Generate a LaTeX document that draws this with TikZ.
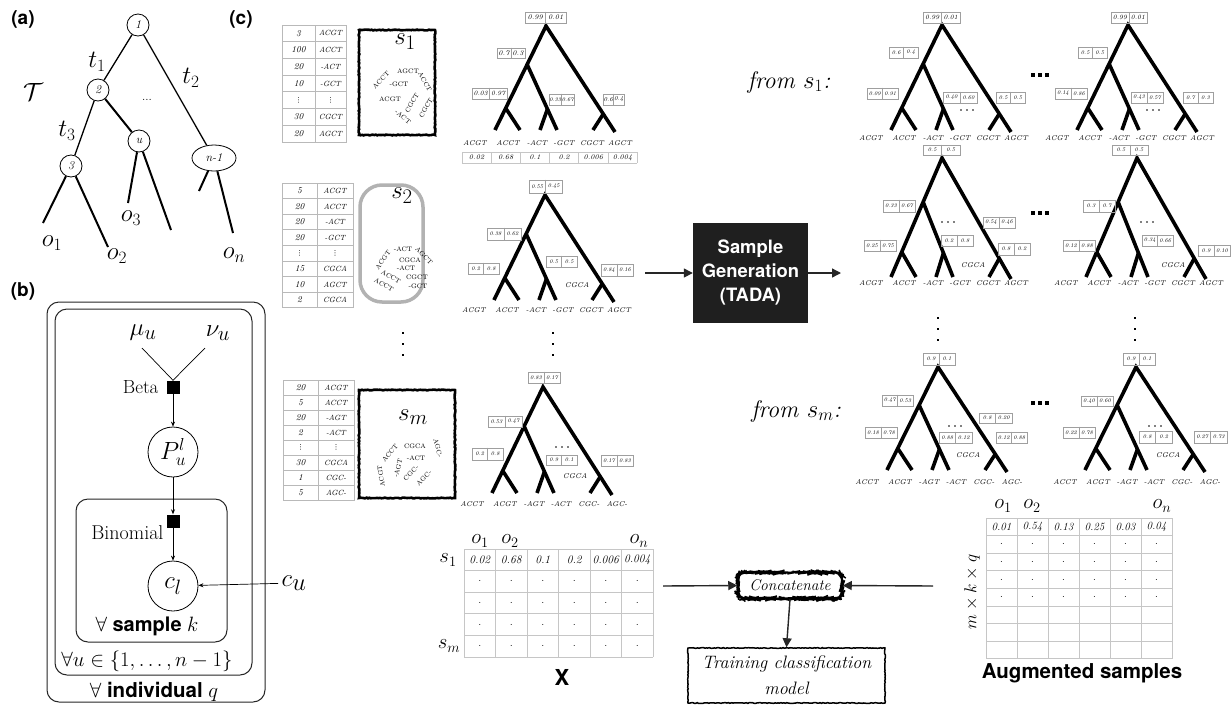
\documentclass[tikz,border=0pt]{standalone}
\usepackage{fontspec}
\setsansfont{TeX Gyre Heros}
\newfontfamily\symfont{DejaVu Sans}
\usepackage{amsmath}
\usetikzlibrary{arrows.meta,calc,decorations.pathmorphing,shapes.geometric}

\newcommand\fsz[1]{\fontsize{#1}{#1}\selectfont}
\newcommand\vd{{\symfont\fsz{7}⋮}}

% probability box: [font size] name, x1, x2, y1, y2, left value, right value
\newcommand\pbox[8][5.5]{%
  \node[pbx, minimum width={#4-#3}, minimum height={#6-#5}] (#2) at ({(#3+#4)/2},{(#5+#6)/2}) {};
  \draw[pbl] (#2.north) -- (#2.south);
  \node[pbt, font=\itshape\fsz{#1}] (#2a) at ({(3*#3+#4)/4},{(#5+#6)/2}) {#7};
  \node[pbt, font=\itshape\fsz{#1}] (#2b) at ({(#3+3*#4)/4},{(#5+#6)/2}) {#8};}

% phylogeny: name, root x, root y, depth, label gap, leaf labels
\newcommand\phylo[6]{%
  \begin{scope}[shift={(#2,#3)}]
    \coordinate (#1r) at (0,0);
    \coordinate (#1A) at (-51,#4);
    \coordinate (#1B) at (-26,#4);
    \coordinate (#1C) at (-6,#4);
    \coordinate (#1D) at (11,#4);
    \coordinate (#1E) at (47,#4);
    \coordinate (#1F) at (69,#4+2);
    \coordinate (#1n2) at ($(#1r)!0.37!(#1A)$);
    \coordinate (#1n3) at ($(#1r)!0.79!(#1A)$);
    \coordinate (#1n4) at ($(#1n2)!0.68!(#1D)$);
    \coordinate (#1n5) at ($(#1r)!0.83!(#1F)$);
    \draw[branch] (#1A) -- (#1r) -- (#1F);
    \draw[branch] (#1n2) -- (#1D);
    \draw[branch] (#1n3) -- (#1B);
    \draw[branch] (#1n4) -- (#1C);
    \draw[branch] (#1n5) -- (#1E);
    \foreach \lab [count=\i] in {#6} {
      \pgfmathsetmacro\lx{{-71,-38,-9,18,46,74}[\i-1]}
      \node[leaflab] (#1l\i) at (\lx,#4+#5) {\lab};}
  \end{scope}}

% sequence count table: name, x-left, x-split, x-right, y-top, row height, number of rows, rows
\newcommand\seqtab[8]{%
  \draw[tgrid] (#2,#5) rectangle (#4,{#5+#7*#6});
  \draw[tgrid] (#3,#5) -- (#3,{#5+#7*#6});
  \foreach \k in {1,...,#7} \draw[tgrid] (#2,{#5+\k*#6}) -- (#4,{#5+\k*#6});
  \foreach \n/\s [count=\i] in {#8} {
    \node[ttext, font=\itshape\fsz{9}] (#1n\i) at ({(#2+#3)/2},{#5+(\i-0.5)*#6}) {\n};
    \node[ttext, font=\itshape\fsz{7.5}] (#1s\i) at ({(#3+#4)/2},{#5+(\i-0.5)*#6}) {\s};}}

% value grid: x-left, y-top, cell width, cell height, columns, rows
\newcommand\valgrid[6]{%
  \foreach \k in {0,...,#5} \draw[ggrid] ({#1+\k*#3},#2) -- ({#1+\k*#3},{#2+#6*#4});
  \foreach \k in {0,...,#6} \draw[ggrid] (#1,{#2+\k*#4}) -- ({#1+#5*#3},{#2+\k*#4});}

\newcommand\sdots[2]{\foreach \d in {-6,0,6} \fill ({#1+\d},#2) circle (0.9);}
\newcommand\bdots[2]{\foreach \d in {-7,0,7} \fill ({#1+\d-1.6},{#2-1.6}) rectangle ++(3.2,3.2);}
\newcommand\vdotcol[2]{\foreach \d in {0,11,22} \fill ({#1-1.3},{#2+\d-1.3}) rectangle ++(2.6,2.6);}

\tikzset{
  panel/.style={font=\sffamily\bfseries\fsz{19}, inner sep=0pt},
  tnode/.style={circle, draw, line width=0.8pt, inner sep=0pt, minimum size=22, font=\itshape\fsz{12}, fill=white},
  tedge/.style={line width=1.3pt},
  leg/.style={line width=2pt},
  branch/.style={line width=3.6pt, line join=miter},
  leaflab/.style={font=\itshape\fsz{7}, inner sep=0pt},
  pbx/.style={draw=gray!75, line width=0.7pt, inner sep=0pt},
  pbl/.style={draw=gray!75, line width=0.6pt},
  pbt/.style={inner sep=0pt},
  tgrid/.style={draw=gray!55, line width=0.7pt},
  ggrid/.style={draw=gray!45, line width=0.9pt},
  ttext/.style={inner sep=0pt},
  word/.style={font=\fsz{6.5}, inner sep=0pt},
  plate/.style={draw=black!85, line width=1pt, rounded corners=12pt},
  factor/.style={fill=black, minimum size=13, inner sep=0pt},
  rv/.style={circle, draw, line width=0.8pt, minimum size=50, inner sep=0pt},
  rough/.style={decorate, decoration={random steps, segment length=1.5pt, amplitude=0.4pt}},
  arr/.style={-{Triangle[length=9pt,width=9pt]}, line width=1.4pt, draw=black!85, fill=black!85},
  thinarr/.style={-{Stealth[length=5pt,width=4pt]}, line width=0.7pt},
}

\begin{document}
\begin{tikzpicture}[x=1pt, y=-1pt]
\fill[white] (0,0) rectangle (1232,705);
\useasboundingbox (0,0) rectangle (1232,705);

% ---------- panel labels ----------
\node[panel] (pa) at (23,19) {(a)};
\node[panel] (pc) at (241,19) {(c)};
\node[panel] (pb) at (23,291) {(b)};

% ---------- (a) tree ----------
\node[tnode] (a1) at (138,25) {1};
\node[tnode] (a2) at (98,90) {2};
\node[tnode] (au) at (139,141) {u};
\node[tnode] (a3) at (71,166) {3};
\node[tnode, ellipse, minimum width=44, minimum height=26] (an) at (214,158) {n-1};
\draw[tedge] (a1) -- (a2);
\draw[tedge] (a1) -- (an);
\draw[tedge] (a2) -- (a3);
\draw[leg] (a2) -- (au);
\coordinate (a3L) at (43,223); \coordinate (a3R) at (108,247);
\coordinate (auL) at (128,203); \coordinate (auR) at (171,230);
\coordinate (anL) at (199,191); \coordinate (anR) at (233,233);
\draw[leg] (a3) -- (a3L); \draw[leg] (a3) -- (a3R);
\draw[leg] (au) -- (auL); \draw[leg] (au) -- (auR);
\draw[leg] (an) -- (anL); \draw[leg] (an) -- (anR);
\node[font=\fsz{24}] (t1) at (97,62) {$t_1$};
\node[font=\fsz{24}] (t2) at (191,78) {$t_2$};
\node[font=\fsz{24}] (t3) at (67,131) {$t_3$};
\node[font=\fsz{30}] (tT) at (33,92) {$\mathcal{T}$};
\node[font=\fsz{12}] (adots) at (147,100) {...};
\node[font=\fsz{26}] (o1) at (52,243) {$o_1$};
\node[font=\fsz{26}] (o2) at (117,256) {$o_2$};
\node[font=\fsz{26}] (o3) at (131,218) {$o_3$};
\node[font=\fsz{26}] (on) at (234,255) {$o_n$};

% ---------- (b) plate model ----------
\draw[plate] (47,302) rectangle (265,702);
\draw[plate] (55,309) rectangle (252,675);
\draw[plate] (76,499) rectangle (227,642);
\node[font=\fsz{31}] (mu) at (143,333) {$\mu_u$};
\node[font=\fsz{31}] (nu) at (218,333) {$\nu_u$};
\node[factor] (beta) at (173,387) {};
\node[anchor=east, font=\fsz{19}] (betal) at (162,387) {Beta};
\coordinate (mul) at (142,348);
\coordinate (nul) at (205,348);
\draw[line width=0.7pt] (mul) -- (beta.north);
\draw[line width=0.7pt] (nul) -- (beta.north);
\node[rv, font=\fsz{25}] (P) at (173,452) {$P_u^l$};
\node[factor] (binom) at (173,521) {};
\node[anchor=east, font=\fsz{20}] (binl) at (167,533) {Binomial};
\node[rv, font=\fsz{32}] (cl) at (173,586) {$c_l$};
\node[font=\fsz{36}] (cu) at (294,583) {$c_u$};
\draw[thinarr] (beta) -- (P);
\draw[thinarr] (P) -- (binom);
\draw[thinarr] (binom) -- (cl);
\draw[thinarr] (cu) -- (cl);
\node[font=\sffamily\bfseries\fsz{20}] (fs) at (147,626) {$\forall$ sample $k$};
\node[font=\fsz{22}] (fu) at (147,661) {$\forall u \in \{1,\ldots,n-1\}$};
\node[font=\sffamily\bfseries\fsz{20.5}] (fi) at (154,692) {$\forall$ individual $q$};

% ---------- (c) input samples ----------
\seqtab{ta}{282}{315}{346}{25}{16.7}{7}{3/ACGT,100/ACCT,20/-ACT,10/-GCT,\vd/\vd,30/CGCT,20/AGCT}
\seqtab{tb}{282}{317}{353}{183}{15.6}{8}{5/ACGT,20/ACCT,20/-ACT,20/-GCT,\vd/\vd,15/CGCA,10/AGCT,2/CGCA}
\seqtab{tc}{283}{318}{354}{380}{15}{8}{20/ACGT,5/ACCT,20/-AGT,2/-ACT,\vd/\vd,30/CGCA,1/CGC-,5/AGC-}

% sample s1
\draw[rough, line width=2.6pt] (359,30) rectangle (435,135);
\node[font=\fsz{28}] (s1) at (405,42) {$s_1$};
\node[word] (w11) at (408,71) {AGCT};
\node[word] (w12) at (399,84) {-GCT};
\node[word, rotate=45] (w13) at (381,80) {ACCT};
\node[word] (w14) at (390,99) {ACGT};
\node[word, rotate=-60] (w15) at (425,82) {ACCT};
\node[word, rotate=60] (w16) at (412,103) {CGCT};
\node[word, rotate=60] (w17) at (426,108) {CGCT};
\node[word, rotate=-40] (w18) at (403,117) {-ACT};

% sample s2
\draw[draw=gray!60, line width=3.5pt, rounded corners=22pt] (360,185) rectangle (423,302);
\node[font=\fsz{28}] (s2) at (402,196) {$s_2$};
\node[word, rotate=55] (w21) at (383,260) {ACGT};
\node[word] (w22) at (403,249) {-ACT};
\node[word, rotate=-45] (w23) at (424,256) {AGCT};
\node[word] (w24) at (410,260) {CGCA};
\node[word] (w25) at (406,268) {-ACT};
\node[word, rotate=-30] (w26) at (391,277) {ACCT};
\node[word] (w27) at (417,277) {CGCT};
\node[word, rotate=-30] (w28) at (384,285) {ACCT};
\node[word] (w29) at (418,286) {-GCT};

% sample sm
\draw[rough, line width=2.6pt] (359,390) rectangle (455,498);
\node[font=\fsz{28}] (sm) at (413,417) {$s_m$};
\node[word, rotate=50] (w31) at (390,453) {ACCT};
\node[word] (w32) at (415,446) {CGCA};
\node[word, rotate=-75] (w33) at (438,448) {AGC-};
\node[word, rotate=75] (w34) at (398,468) {-AGT};
\node[word] (w35) at (416,458) {-ACT};
\node[word, rotate=100] (w36) at (381,476) {ACGT};
\node[word, rotate=45] (w37) at (411,473) {CGC-};
\node[word, rotate=45] (w38) at (424,478) {AGC-};

\vdotcol{403}{333}
\vdotcol{553}{333}

% ---------- (c) sample trees ----------
\phylo{La}{546}{26}{104}{13}{ACGT,ACCT,-ACT,-GCT,CGCT,AGCT}
\pbox[7]{la0}{525}{566}{12}{23}{0.99}{0.01}
\pbox[7]{la2}{497}{525}{48}{58}{0.7}{0.3}
\pbox[6.5]{la3}{472}{507}{88}{99}{0.03}{0.97}
\pbox[5.5]{la4}{549}{574}{94}{105}{0.33}{0.67}
\pbox[6]{la5}{603}{624}{94}{105}{0.6}{0.4}
\valgrid{462}{152}{29.2}{11}{6}{1}
\foreach \v [count=\i from 0] in {0.02,0.68,0.1,0.2,0.006,0.004}
  \node[ttext, font=\itshape\fsz{7}] (lav\i) at ({462+29.2*(\i+0.5)},157.5) {\v};

\phylo{Lb}{545}{195}{105}{10}{ACGT,ACCT,-ACT,-GCT,CGCT,AGCT}
\pbox{lb0}{529}{562}{180}{193}{0.55}{0.45}
\pbox{lb2}{487}{521}{228}{240}{0.38}{0.62}
\pbox{lb3}{468}{499}{263}{274}{0.2}{0.8}
\pbox{lb4}{546}{577}{256}{267}{0.5}{0.5}
\pbox{lb5}{601}{633}{264}{276}{0.84}{0.16}
\node[leaflab] (lbc) at (577,285) {CGCA};

\phylo{Lc}{543}{387}{106}{11}{ACCT,ACGT,-AGT,-ACT,CGC-,AGC-}
\pbox{lc0}{528}{560}{372}{383}{0.83}{0.17}
\pbox{lc2}{488}{522}{416}{427}{0.53}{0.47}
\pbox{lc3}{472}{503}{448}{460}{0.2}{0.8}
\pbox{lc4}{546}{577}{455}{465}{0.9}{0.1}
\pbox{lc5}{601}{633}{455}{466}{0.17}{0.83}
\sdots{562}{447}
\node[leaflab] (lcc) at (575,476) {CGCA};

% ---------- sample generation ----------
\node[fill=black!88, text=white, minimum width=115, minimum height=100, align=center,
      font=\sffamily\bfseries\fontsize{18.4}{24}\selectfont] (tada) at (750.5,273) {Sample\\Generation\\(TADA)};
\coordinate (genin) at (645,273);
\coordinate (genout) at (841,273);
\draw[arr] (genin) -- (tada.west);
\draw[arr] (tada.east) -- (genout);

\node[font=\itshape\fsz{24}] (from1) at (789,82) {from $s_1$:};
\node[font=\itshape\fsz{24}] (fromm) at (796,411) {from $s_m$:};

% ---------- augmented trees ----------
\phylo{Ra}{942}{25}{105}{8}{ACGT,ACCT,-ACT,-GCT,CGCT,AGCT}
\pbox[6.5]{ra0}{923}{960}{12}{23}{0.99}{0.01}
\pbox{ra2}{889}{918}{47}{58}{0.6}{0.4}
\pbox{ra3}{867}{898}{88}{99}{0.09}{0.91}
\pbox{ra4}{943}{977}{92}{103}{0.40}{0.60}
\sdots{967}{110}
\pbox{ra5}{996}{1025}{92}{103}{0.5}{0.5}

\phylo{Rb}{1128}{25}{105}{8}{ACGT,ACCT,-ACT,-GCT,CGCT,AGCT}
\pbox[6.5]{rb0}{1111}{1147}{12}{23}{0.99}{0.01}
\pbox{rb2}{1078}{1107}{47}{58}{0.5}{0.5}
\pbox{rb3}{1055}{1087}{88}{99}{0.14}{0.86}
\pbox{rb4}{1131}{1163}{92}{103}{0.43}{0.57}
\sdots{1153}{110}
\pbox{rb5}{1183}{1213}{92}{103}{0.7}{0.3}
\bdots{1040}{75}

\phylo{Rc}{942}{158}{119}{6}{ACGT,ACCT,-ACT,-GCT,CGCT,AGCT}
\pbox{rc0}{923}{960}{145}{155}{0.5}{0.5}
\pbox{rc2}{883}{915}{200}{212}{0.33}{0.67}
\pbox{rc3}{864}{896}{240}{251}{0.25}{0.75}
\sdots{948}{222}
\pbox{rc4}{941}{973}{235}{246}{0.2}{0.8}
\pbox{rc6}{983}{1015}{217}{228}{0.54}{0.46}
\pbox{rc5}{998}{1030}{243}{255}{0.8}{0.2}
\node[leaflab] (rcc) at (973,265) {CGCA};

\phylo{Rd}{1137}{158}{119}{6}{ACGT,ACCT,-ACT,-GCT,CGCT,AGCT}
\pbox{rd0}{1112}{1148}{145}{155}{0.5}{0.5}
\pbox{rd2}{1083}{1115}{200}{212}{0.3}{0.7}
\pbox{rd3}{1063}{1095}{240}{251}{0.12}{0.88}
\sdots{1147}{222}
\pbox{rd4}{1142}{1173}{235}{246}{0.34}{0.66}
\pbox{rd5}{1198}{1230}{245}{256}{0.9}{0.10}
\node[leaflab] (rdc) at (1173,265) {CGCA};
\bdots{1040}{213}

\vdotcol{938}{318}
\vdotcol{1135}{318}

\phylo{Re}{938}{367}{103}{12}{ACCT,ACGT,-AGT,-ACT,CGC-,AGC-}
\pbox{re0}{923}{955}{353}{365}{0.9}{0.1}
\pbox{re2}{882}{913}{395}{406}{0.47}{0.53}
\pbox{re3}{865}{897}{427}{438}{0.18}{0.78}
\sdots{955}{426}
\pbox{re4}{939}{972}{432}{443}{0.88}{0.12}
\pbox{re6}{979}{1012}{413}{423}{0.8}{0.20}
\pbox{re5}{996}{1027}{432}{443}{0.12}{0.88}
\node[leaflab] (rec) at (968,455) {CGCA};

\phylo{Rf}{1136}{367}{103}{12}{ACCT,ACGT,-AGT,-ACT,CGC-,AGC-}
\pbox{rf0}{1123}{1155}{353}{365}{0.9}{0.1}
\pbox{rf2}{1081}{1113}{396}{406}{0.40}{0.60}
\pbox{rf3}{1063}{1095}{427}{438}{0.22}{0.78}
\sdots{1155}{426}
\pbox{rf4}{1139}{1172}{431}{443}{0.8}{0.2}
\pbox{rf5}{1194}{1227}{431}{443}{0.27}{0.73}
\node[leaflab] (rfc) at (1168,455) {CGCA};
\bdots{1040}{403}

% ---------- feature matrix X ----------
\valgrid{464}{549}{31.5}{21.6}{6}{5}
\foreach \v [count=\c from 0] in {0.02,0.68,0.1,0.2,0.006,0.004}
  \node[ttext, font=\itshape\fsz{11.5}] (xv-\c) at ({464+31.5*(\c+0.5)},559.8) {\v};
\foreach \c in {0,...,5} \foreach \r in {1,...,4}
  \node[ttext, font=\fsz{11}] (xd-\c-\r) at ({464+31.5*(\c+0.5)},{549+21.6*(\r+0.5)}) {.};
\node[font=\fsz{20}] (xo1) at (480,541) {$o_1$};
\node[font=\fsz{20}] (xo2) at (510,541) {$o_2$};
\node[font=\fsz{20}] (xon) at (639,541) {$o_n$};
\node[font=\fsz{20}] (xs1) at (448,560) {$s_1$};
\node[font=\fsz{20}] (xsm) at (449,646) {$s_m$};
\node[font=\sffamily\bfseries\fsz{22}] (xlab) at (562,677) {X};

% ---------- augmented matrix ----------
\valgrid{986}{518}{31}{17.6}{6}{8}
\foreach \v [count=\c from 0] in {0.01,0.54,0.13,0.25,0.03,0.04}
  \node[ttext, font=\itshape\fsz{11}] (gv-\c) at ({986+31*(\c+0.5)},526.8) {\v};
\foreach \c in {0,...,5} \foreach \r in {1,...,4}
  \node[ttext, font=\fsz{10}] (gd-\c-\r) at ({986+31*(\c+0.5)},{518+17.6*(\r+0.5)}) {.};
\node[font=\fsz{20}] (go1) at (1003,506) {$o_1$};
\node[font=\fsz{20}] (go2) at (1032,506) {$o_2$};
\node[font=\fsz{20}] (gon) at (1162,506) {$o_n$};
\node[font=\fsz{18}, rotate=90] (gdim) at (972,592) {$m\times k\times q$};
\node[font=\sffamily\bfseries\fsz{20.5}] (glab) at (1082,673) {Augmented samples};

% ---------- concatenation and training ----------
\node[draw, rough, line width=1.5pt, rounded corners=7pt, minimum width=104, minimum height=26,
      font=\itshape\fsz{15.5}] (cat) at (790,585.5) {Concatenate};
\node[draw, rough, line width=1.5pt, minimum width=197, minimum height=55, align=center,
      font=\itshape\fontsize{18}{26}\selectfont] (train) at (786.5,675.5) {Training classification\\model};
\coordinate (xout) at (663,586);
\coordinate (gout) at (933,586);
\draw[arr] (xout) -- (cat.west);
\draw[arr] (gout) -- (cat.east);
\draw[arr] (cat.south) -- (train.north);
\end{tikzpicture}
\end{document}
